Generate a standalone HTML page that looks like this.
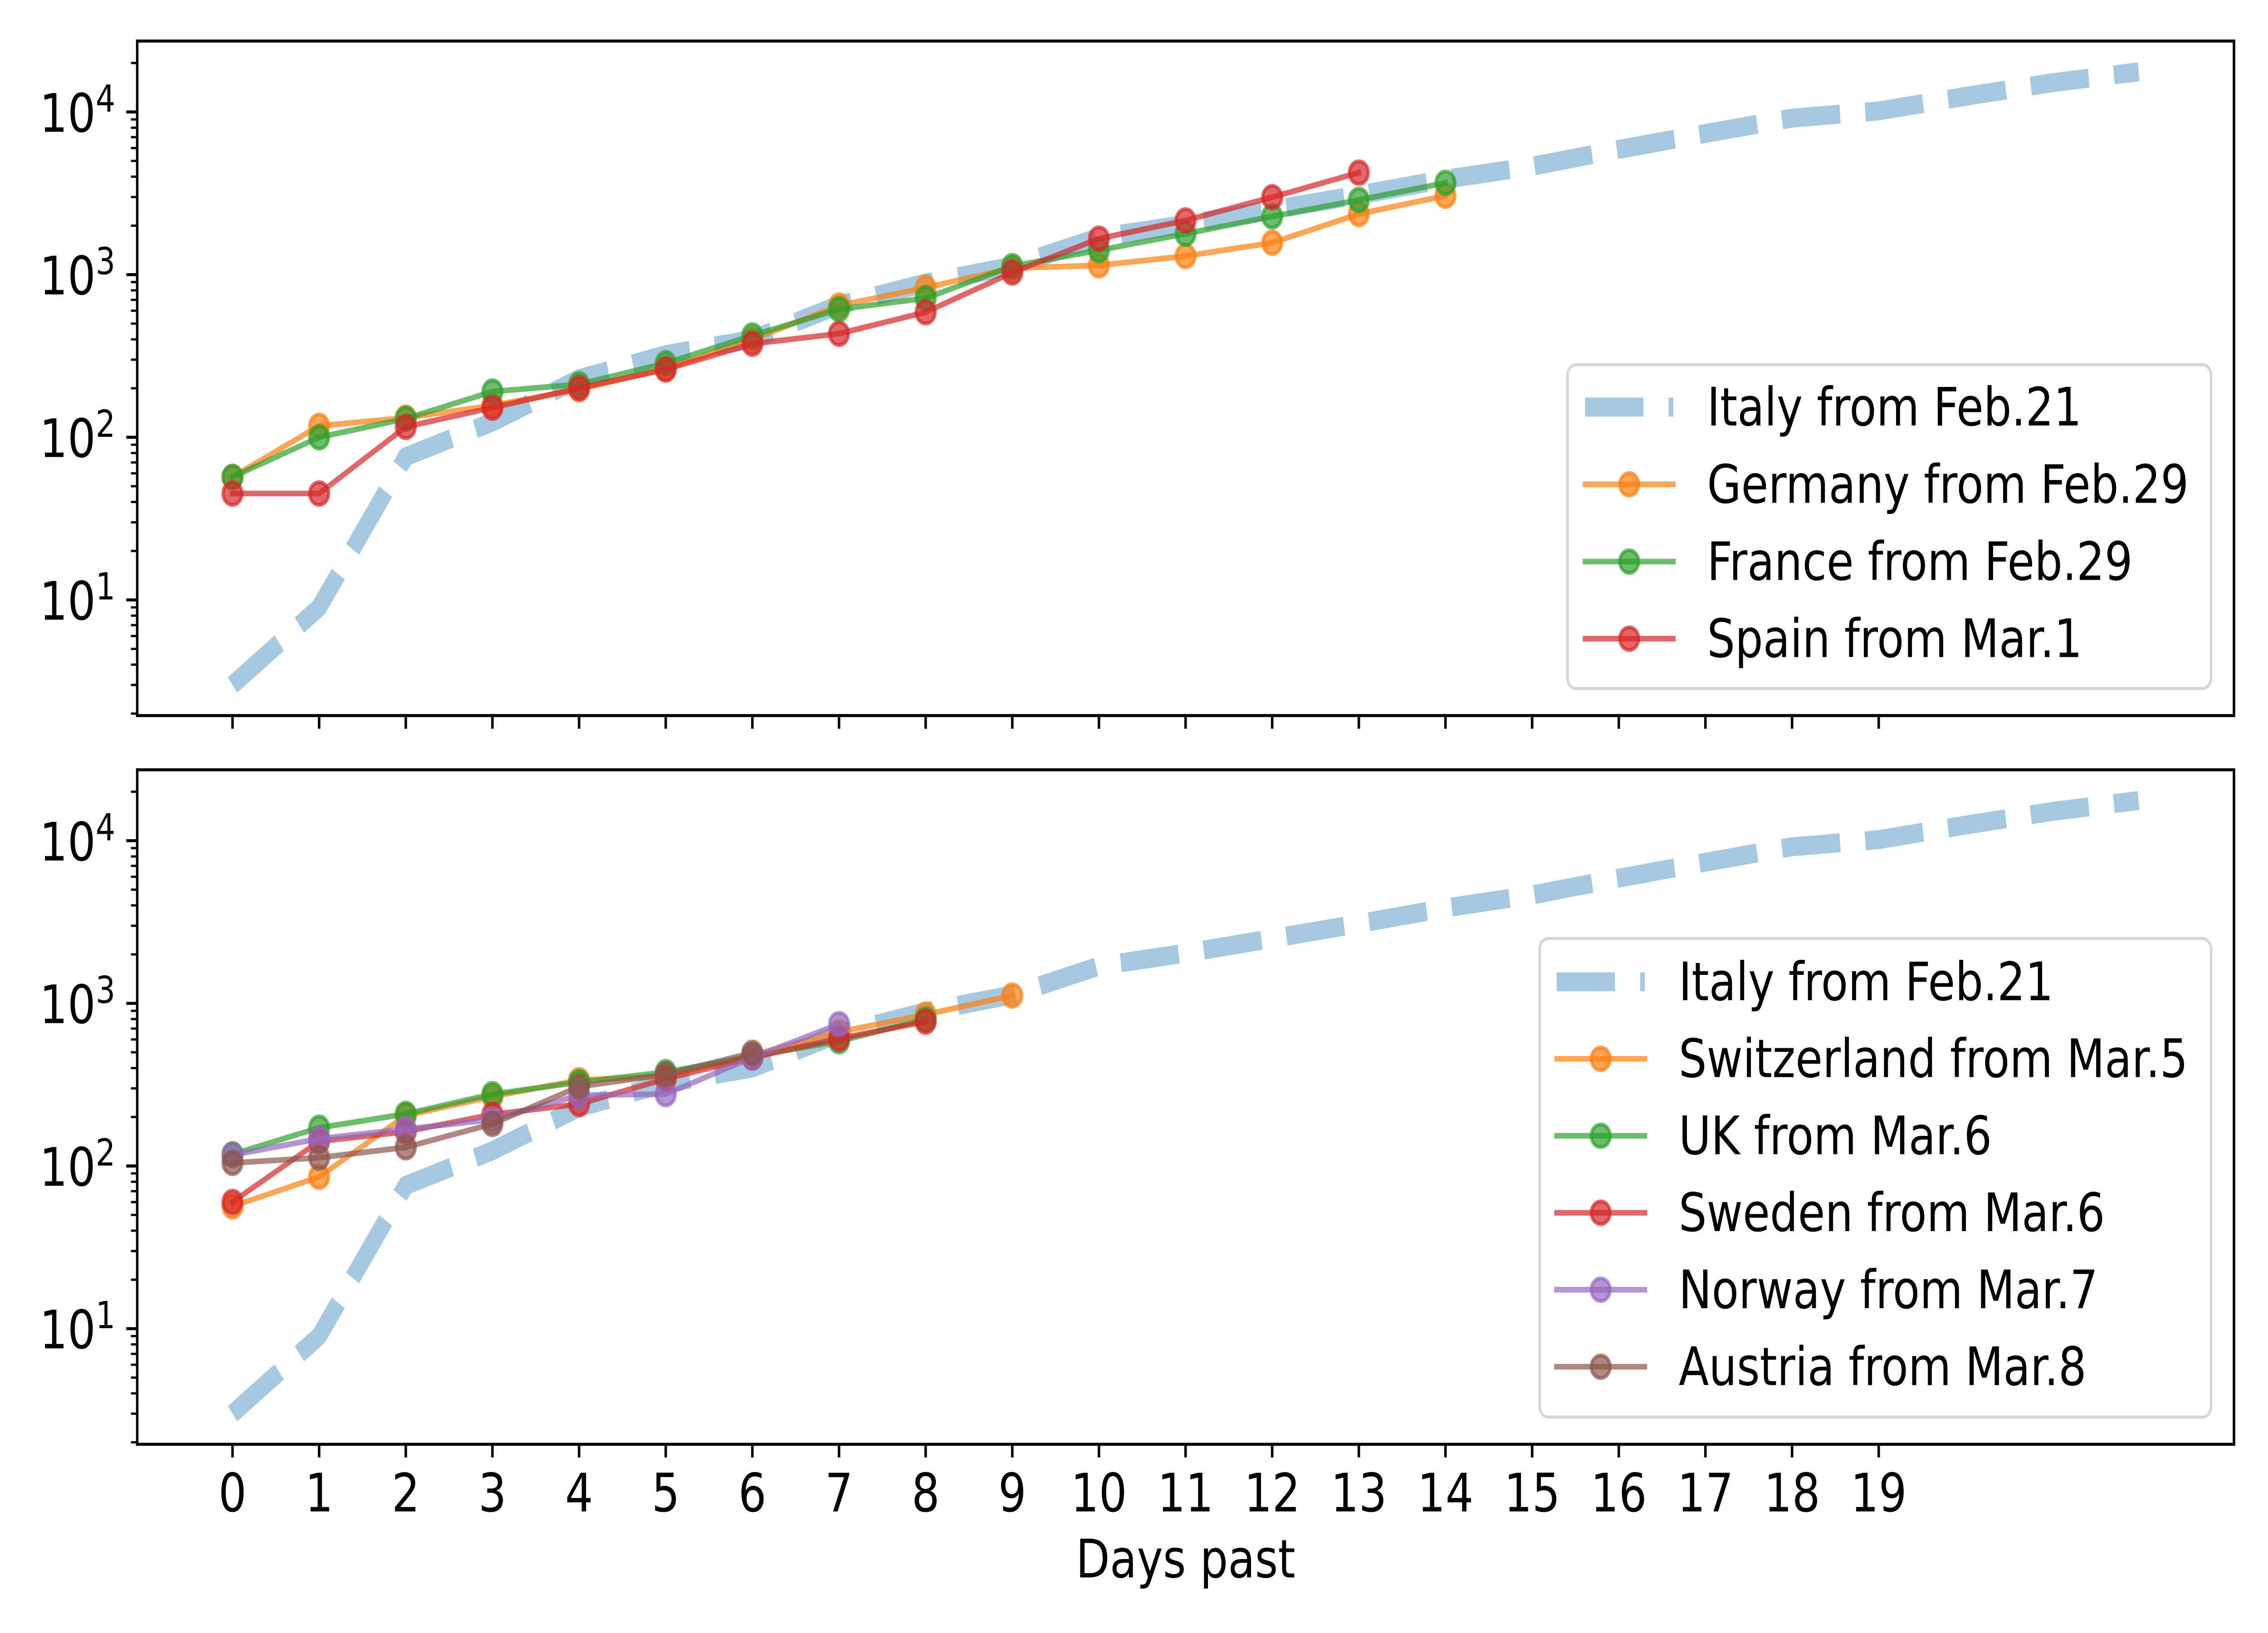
<!DOCTYPE html>
<html>
<head>
<meta charset="utf-8">
<style>
html,body{margin:0;padding:0;background:#fff;width:100%;height:100%;overflow:hidden;}
svg{display:block;width:100vw;height:100vh;}
text{font-family:"DejaVu Sans","Liberation Sans",sans-serif;fill:#000;}
</style>
</head>
<body>
<svg xmlns="http://www.w3.org/2000/svg" viewBox="0 0 6000 3600" preserveAspectRatio="none">
<rect x="0" y="0" width="6000" height="3600" fill="#fff"/>

<!-- ================= TOP AXES ================= -->
<polyline fill="none" stroke="#1f77b4" stroke-opacity="0.4" stroke-width="41.67" stroke-dasharray="154.2 66.7" stroke-linecap="butt" stroke-linejoin="round"
points="615.1,1510.05 844.3,1338.97 1073.5,1006.72 1302.7,930.49 1532.0,834.96 1761.2,781.86 1990.4,748.08 2219.6,672.50 2448.8,623.91 2678.0,586.65 2907.2,523.33 3136.4,494.68 3365.6,462.59 3594.8,429.78 3824.0,395.14 4053.3,366.52 4282.5,329.45 4511.7,294.24 4740.9,260.28 4970.1,244.54 5199.3,212.55 5428.5,182.50 5657.7,158.27"/>
<!-- Germany -->
<polyline fill="none" stroke="#ff7f0e" stroke-opacity="0.7" stroke-width="12.5" stroke-linecap="square" stroke-linejoin="round"
points="615.1,1051.47 844.3,938.88 1073.5,920.95 1302.7,894.06 1532.0,858.20 1761.2,812.66 1990.4,748.84 2219.6,673.54 2448.8,634.10 2678.0,591.07 2907.2,584.97 3136.4,564.53 3365.6,535.13 3594.8,471.66 3824.0,431.50"/>
<g fill="#ff7f0e" fill-opacity="0.7" stroke="#ff7f0e" stroke-opacity="0.7" stroke-width="8.33">
<circle cx="615.1" cy="1051.47" r="25"/><circle cx="844.3" cy="938.88" r="25"/><circle cx="1073.5" cy="920.95" r="25"/><circle cx="1302.7" cy="894.06" r="25"/><circle cx="1532.0" cy="858.20" r="25"/><circle cx="1761.2" cy="812.66" r="25"/><circle cx="1990.4" cy="748.84" r="25"/><circle cx="2219.6" cy="673.54" r="25"/><circle cx="2448.8" cy="634.10" r="25"/><circle cx="2678.0" cy="591.07" r="25"/><circle cx="2907.2" cy="584.97" r="25"/><circle cx="3136.4" cy="564.53" r="25"/><circle cx="3365.6" cy="535.13" r="25"/><circle cx="3594.8" cy="471.66" r="25"/><circle cx="3824.0" cy="431.50" r="25"/>
</g>
<!-- France -->
<polyline fill="none" stroke="#2ca02c" stroke-opacity="0.7" stroke-width="12.5" stroke-linecap="square" stroke-linejoin="round"
points="615.1,1051.47 844.3,963.98 1073.5,923.10 1302.7,863.22 1532.0,847.09 1761.2,800.83 1990.4,739.52 2219.6,681.79 2448.8,657.40 2678.0,586.71 2907.2,551.62 3136.4,515.41 3365.6,477.04 3594.8,440.83 3824.0,403.18"/>
<g fill="#2ca02c" fill-opacity="0.7" stroke="#2ca02c" stroke-opacity="0.7" stroke-width="8.33">
<circle cx="615.1" cy="1051.47" r="25"/><circle cx="844.3" cy="963.98" r="25"/><circle cx="1073.5" cy="923.10" r="25"/><circle cx="1302.7" cy="863.22" r="25"/><circle cx="1532.0" cy="847.09" r="25"/><circle cx="1761.2" cy="800.83" r="25"/><circle cx="1990.4" cy="739.52" r="25"/><circle cx="2219.6" cy="681.79" r="25"/><circle cx="2448.8" cy="657.40" r="25"/><circle cx="2678.0" cy="586.71" r="25"/><circle cx="2907.2" cy="551.62" r="25"/><circle cx="3136.4" cy="515.41" r="25"/><circle cx="3365.6" cy="477.04" r="25"/><circle cx="3594.8" cy="440.83" r="25"/><circle cx="3824.0" cy="403.18" r="25"/>
</g>
<!-- Spain -->
<polyline fill="none" stroke="#d62728" stroke-opacity="0.7" stroke-width="12.5" stroke-linecap="square" stroke-linejoin="round"
points="615.1,1088.05 844.3,1088.05 1073.5,941.03 1302.7,898.72 1532.0,855.69 1761.2,814.46 1990.4,757.80 2219.6,735.57 2448.8,688.24 2678.0,600.75 2907.2,526.17 3136.4,486.01 3365.6,434.73 3594.8,380.59"/>
<g fill="#d62728" fill-opacity="0.7" stroke="#d62728" stroke-opacity="0.7" stroke-width="8.33">
<circle cx="615.1" cy="1088.05" r="25"/><circle cx="844.3" cy="1088.05" r="25"/><circle cx="1073.5" cy="941.03" r="25"/><circle cx="1302.7" cy="898.72" r="25"/><circle cx="1532.0" cy="855.69" r="25"/><circle cx="1761.2" cy="814.46" r="25"/><circle cx="1990.4" cy="757.80" r="25"/><circle cx="2219.6" cy="735.57" r="25"/><circle cx="2448.8" cy="688.24" r="25"/><circle cx="2678.0" cy="600.75" r="25"/><circle cx="2907.2" cy="526.17" r="25"/><circle cx="3136.4" cy="486.01" r="25"/><circle cx="3365.6" cy="434.73" r="25"/><circle cx="3594.8" cy="380.59" r="25"/>
</g>

<!-- top frame & ticks -->
<g>
<rect x="363" y="90.5" width="5547" height="1487" fill="none" stroke="#000" stroke-width="6.67"/>
<path fill="none" stroke="#000" stroke-width="6.67" d="M363,1322.55H334M363,963.98H334M363,605.41H334M363,246.84H334"/>
<path fill="none" stroke="#000" stroke-width="5" d="M363,1573.18H346.3M363,1510.04H346.3M363,1465.24H346.3M363,1430.49H346.3M363,1402.10H346.3M363,1378.09H346.3M363,1357.30H346.3M363,1338.96H346.3M363,1214.61H346.3M363,1151.47H346.3M363,1106.67H346.3M363,1071.92H346.3M363,1043.53H346.3M363,1019.52H346.3M363,998.73H346.3M363,980.39H346.3M363,856.04H346.3M363,792.90H346.3M363,748.10H346.3M363,713.35H346.3M363,684.96H346.3M363,660.95H346.3M363,640.16H346.3M363,621.82H346.3M363,497.47H346.3M363,434.33H346.3M363,389.53H346.3M363,354.78H346.3M363,326.39H346.3M363,302.38H346.3M363,281.59H346.3M363,263.25H346.3M363,138.90H346.3"/>
<path fill="none" stroke="#000" stroke-width="6.67" d="M615.1,1577.5V1606.5M844.3,1577.5V1606.5M1073.5,1577.5V1606.5M1302.7,1577.5V1606.5M1532.0,1577.5V1606.5M1761.2,1577.5V1606.5M1990.4,1577.5V1606.5M2219.6,1577.5V1606.5M2448.8,1577.5V1606.5M2678.0,1577.5V1606.5M2907.2,1577.5V1606.5M3136.4,1577.5V1606.5M3365.6,1577.5V1606.5M3594.8,1577.5V1606.5M3824.0,1577.5V1606.5M4053.3,1577.5V1606.5M4282.5,1577.5V1606.5M4511.7,1577.5V1606.5M4740.9,1577.5V1606.5M4970.1,1577.5V1606.5"/>
</g>
<g font-size="116.7" text-anchor="end">
<text x="305" y="1366.05">10<tspan dy="-44.5" font-size="81.7">1</tspan></text>
<text x="305" y="1007.48">10<tspan dy="-44.5" font-size="81.7">2</tspan></text>
<text x="305" y="648.91">10<tspan dy="-44.5" font-size="81.7">3</tspan></text>
<text x="305" y="290.34">10<tspan dy="-44.5" font-size="81.7">4</tspan></text>
</g>

<!-- top legend -->
<rect x="4147" y="804" width="1702.5" height="714" rx="23.3" ry="23.3" fill="#fff" fill-opacity="0.8" stroke="#d6d6d6" stroke-width="6.67"/>
<line x1="4193.5" y1="897.5" x2="4426.8" y2="897.5" stroke="#1f77b4" stroke-opacity="0.4" stroke-width="41.67" stroke-dasharray="154.2 66.7" stroke-linecap="butt"/>
<line x1="4193.5" y1="1067.8" x2="4426.8" y2="1067.8" stroke="#ff7f0e" stroke-opacity="0.7" stroke-width="12.5" stroke-linecap="square"/>
<circle cx="4310.1" cy="1067.8" r="25" fill="#ff7f0e" fill-opacity="0.7" stroke="#ff7f0e" stroke-opacity="0.7" stroke-width="8.33"/>
<line x1="4193.5" y1="1238" x2="4426.8" y2="1238" stroke="#2ca02c" stroke-opacity="0.7" stroke-width="12.5" stroke-linecap="square"/>
<circle cx="4310.1" cy="1238" r="25" fill="#2ca02c" fill-opacity="0.7" stroke="#2ca02c" stroke-opacity="0.7" stroke-width="8.33"/>
<line x1="4193.5" y1="1408" x2="4426.8" y2="1408" stroke="#d62728" stroke-opacity="0.7" stroke-width="12.5" stroke-linecap="square"/>
<circle cx="4310.1" cy="1408" r="25" fill="#d62728" fill-opacity="0.7" stroke="#d62728" stroke-opacity="0.7" stroke-width="8.33"/>
<g font-size="116.7">
<text x="4516" y="938">Italy from Feb.21</text>
<text x="4516" y="1108.3">Germany from Feb.29</text>
<text x="4516" y="1278.5">France from Feb.29</text>
<text x="4516" y="1448.5">Spain from Mar.1</text>
</g>

<!-- ================= BOTTOM AXES ================= -->
<polyline fill="none" stroke="#1f77b4" stroke-opacity="0.4" stroke-width="41.67" stroke-dasharray="154.2 66.7" stroke-linecap="butt" stroke-linejoin="round"
points="615.1,3116.55 844.3,2945.47 1073.5,2613.22 1302.7,2536.99 1532.0,2441.46 1761.2,2388.36 1990.4,2354.58 2219.6,2279.00 2448.8,2230.41 2678.0,2193.15 2907.2,2129.83 3136.4,2101.18 3365.6,2069.09 3594.8,2036.28 3824.0,2001.64 4053.3,1973.02 4282.5,1935.95 4511.7,1900.74 4740.9,1866.78 4970.1,1851.04 5199.3,1819.05 5428.5,1789.00 5657.7,1764.77"/>
<!-- Switzerland -->
<polyline fill="none" stroke="#ff7f0e" stroke-opacity="0.7" stroke-width="12.5" stroke-linecap="square" stroke-linejoin="round"
points="615.1,2659.41 844.3,2594.50 1073.5,2459.32 1302.7,2417.37 1532.0,2381.16 1761.2,2372.55 1990.4,2325.94 2219.6,2275.02 2448.8,2236.65 2678.0,2194.70"/>
<g fill="#ff7f0e" fill-opacity="0.7" stroke="#ff7f0e" stroke-opacity="0.7" stroke-width="8.33">
<circle cx="615.1" cy="2659.41" r="25"/><circle cx="844.3" cy="2594.50" r="25"/><circle cx="1073.5" cy="2459.32" r="25"/><circle cx="1302.7" cy="2417.37" r="25"/><circle cx="1532.0" cy="2381.16" r="25"/><circle cx="1761.2" cy="2372.55" r="25"/><circle cx="1990.4" cy="2325.94" r="25"/><circle cx="2219.6" cy="2275.02" r="25"/><circle cx="2448.8" cy="2236.65" r="25"/><circle cx="2678.0" cy="2194.70" r="25"/>
</g>
<!-- UK -->
<polyline fill="none" stroke="#2ca02c" stroke-opacity="0.7" stroke-width="12.5" stroke-linecap="square" stroke-linejoin="round"
points="615.1,2544.66 844.3,2486.22 1073.5,2455.74 1302.7,2411.99 1532.0,2385.82 1761.2,2363.58 1990.4,2328.45 2219.6,2295.46 2448.8,2247.05"/>
<g fill="#2ca02c" fill-opacity="0.7" stroke="#2ca02c" stroke-opacity="0.7" stroke-width="8.33">
<circle cx="615.1" cy="2544.66" r="25"/><circle cx="844.3" cy="2486.22" r="25"/><circle cx="1073.5" cy="2455.74" r="25"/><circle cx="1302.7" cy="2411.99" r="25"/><circle cx="1532.0" cy="2385.82" r="25"/><circle cx="1761.2" cy="2363.58" r="25"/><circle cx="1990.4" cy="2328.45" r="25"/><circle cx="2219.6" cy="2295.46" r="25"/><circle cx="2448.8" cy="2247.05" r="25"/>
</g>
<!-- Sweden -->
<polyline fill="none" stroke="#d62728" stroke-opacity="0.7" stroke-width="12.5" stroke-linecap="square" stroke-linejoin="round"
points="615.1,2649.72 844.3,2515.98 1073.5,2494.82 1302.7,2456.81 1532.0,2433.87 1761.2,2378.29 1990.4,2331.31 2219.6,2289.36 2448.8,2252.43"/>
<g fill="#d62728" fill-opacity="0.7" stroke="#d62728" stroke-opacity="0.7" stroke-width="8.33">
<circle cx="615.1" cy="2649.72" r="25"/><circle cx="844.3" cy="2515.98" r="25"/><circle cx="1073.5" cy="2494.82" r="25"/><circle cx="1302.7" cy="2456.81" r="25"/><circle cx="1532.0" cy="2433.87" r="25"/><circle cx="1761.2" cy="2378.29" r="25"/><circle cx="1990.4" cy="2331.31" r="25"/><circle cx="2219.6" cy="2289.36" r="25"/><circle cx="2448.8" cy="2252.43" r="25"/>
</g>
<!-- Norway -->
<polyline fill="none" stroke="#9467bd" stroke-opacity="0.7" stroke-width="12.5" stroke-linecap="square" stroke-linejoin="round"
points="615.1,2546.46 844.3,2510.24 1073.5,2489.08 1302.7,2468.29 1532.0,2414.50 1761.2,2411.99 1990.4,2331.31 2219.6,2257.81"/>
<g fill="#9467bd" fill-opacity="0.7" stroke="#9467bd" stroke-opacity="0.7" stroke-width="8.33">
<circle cx="615.1" cy="2546.46" r="25"/><circle cx="844.3" cy="2510.24" r="25"/><circle cx="1073.5" cy="2489.08" r="25"/><circle cx="1302.7" cy="2468.29" r="25"/><circle cx="1532.0" cy="2414.50" r="25"/><circle cx="1761.2" cy="2411.99" r="25"/><circle cx="1990.4" cy="2331.31" r="25"/><circle cx="2219.6" cy="2257.81" r="25"/>
</g>
<!-- Austria -->
<polyline fill="none" stroke="#8c564b" stroke-opacity="0.7" stroke-width="12.5" stroke-linecap="square" stroke-linejoin="round"
points="615.1,2563.67 844.3,2552.19 1073.5,2529.24 1302.7,2477.61 1532.0,2395.50 1761.2,2368.60 1990.4,2320.91"/>
<g fill="#8c564b" fill-opacity="0.7" stroke="#8c564b" stroke-opacity="0.7" stroke-width="8.33">
<circle cx="615.1" cy="2563.67" r="25"/><circle cx="844.3" cy="2552.19" r="25"/><circle cx="1073.5" cy="2529.24" r="25"/><circle cx="1302.7" cy="2477.61" r="25"/><circle cx="1532.0" cy="2395.50" r="25"/><circle cx="1761.2" cy="2368.60" r="25"/><circle cx="1990.4" cy="2320.91" r="25"/>
</g>

<!-- bottom frame & ticks -->
<g transform="translate(0,1606.5)">
<rect x="363" y="90.5" width="5547" height="1487" fill="none" stroke="#000" stroke-width="6.67"/>
<path fill="none" stroke="#000" stroke-width="6.67" d="M363,1322.55H334M363,963.98H334M363,605.41H334M363,246.84H334"/>
<path fill="none" stroke="#000" stroke-width="5" d="M363,1573.18H346.3M363,1510.04H346.3M363,1465.24H346.3M363,1430.49H346.3M363,1402.10H346.3M363,1378.09H346.3M363,1357.30H346.3M363,1338.96H346.3M363,1214.61H346.3M363,1151.47H346.3M363,1106.67H346.3M363,1071.92H346.3M363,1043.53H346.3M363,1019.52H346.3M363,998.73H346.3M363,980.39H346.3M363,856.04H346.3M363,792.90H346.3M363,748.10H346.3M363,713.35H346.3M363,684.96H346.3M363,660.95H346.3M363,640.16H346.3M363,621.82H346.3M363,497.47H346.3M363,434.33H346.3M363,389.53H346.3M363,354.78H346.3M363,326.39H346.3M363,302.38H346.3M363,281.59H346.3M363,263.25H346.3M363,138.90H346.3"/>
<path fill="none" stroke="#000" stroke-width="6.67" d="M615.1,1577.5V1606.5M844.3,1577.5V1606.5M1073.5,1577.5V1606.5M1302.7,1577.5V1606.5M1532.0,1577.5V1606.5M1761.2,1577.5V1606.5M1990.4,1577.5V1606.5M2219.6,1577.5V1606.5M2448.8,1577.5V1606.5M2678.0,1577.5V1606.5M2907.2,1577.5V1606.5M3136.4,1577.5V1606.5M3365.6,1577.5V1606.5M3594.8,1577.5V1606.5M3824.0,1577.5V1606.5M4053.3,1577.5V1606.5M4282.5,1577.5V1606.5M4511.7,1577.5V1606.5M4740.9,1577.5V1606.5M4970.1,1577.5V1606.5"/>
</g>
<g font-size="116.7" text-anchor="end">
<text x="305" y="2972.55">10<tspan dy="-44.5" font-size="81.7">1</tspan></text>
<text x="305" y="2613.98">10<tspan dy="-44.5" font-size="81.7">2</tspan></text>
<text x="305" y="2255.41">10<tspan dy="-44.5" font-size="81.7">3</tspan></text>
<text x="305" y="1896.84">10<tspan dy="-44.5" font-size="81.7">4</tspan></text>
</g>

<!-- x tick labels -->
<g font-size="116.7" text-anchor="middle">
<text x="615.1" y="3332">0</text>
<text x="844.3" y="3332">1</text>
<text x="1073.5" y="3332">2</text>
<text x="1302.7" y="3332">3</text>
<text x="1532.0" y="3332">4</text>
<text x="1761.2" y="3332">5</text>
<text x="1990.4" y="3332">6</text>
<text x="2219.6" y="3332">7</text>
<text x="2448.8" y="3332">8</text>
<text x="2678.0" y="3332">9</text>
<text x="2907.2" y="3332">10</text>
<text x="3136.4" y="3332">11</text>
<text x="3365.6" y="3332">12</text>
<text x="3594.8" y="3332">13</text>
<text x="3824.0" y="3332">14</text>
<text x="4053.3" y="3332">15</text>
<text x="4282.5" y="3332">16</text>
<text x="4511.7" y="3332">17</text>
<text x="4740.9" y="3332">18</text>
<text x="4970.1" y="3332">19</text>
<text x="3136.5" y="3477.7">Days past</text>
</g>

<!-- bottom legend -->
<rect x="4073" y="2069" width="1776.5" height="1055" rx="23.3" ry="23.3" fill="#fff" fill-opacity="0.8" stroke="#d6d6d6" stroke-width="6.67"/>
<line x1="4118" y1="2164.5" x2="4351.4" y2="2164.5" stroke="#1f77b4" stroke-opacity="0.4" stroke-width="41.67" stroke-dasharray="154.2 66.7" stroke-linecap="butt"/>
<line x1="4118" y1="2334.2" x2="4351.4" y2="2334.2" stroke="#ff7f0e" stroke-opacity="0.7" stroke-width="12.5" stroke-linecap="square"/>
<circle cx="4234.7" cy="2334.2" r="25" fill="#ff7f0e" fill-opacity="0.7" stroke="#ff7f0e" stroke-opacity="0.7" stroke-width="8.33"/>
<line x1="4118" y1="2503.9" x2="4351.4" y2="2503.9" stroke="#2ca02c" stroke-opacity="0.7" stroke-width="12.5" stroke-linecap="square"/>
<circle cx="4234.7" cy="2503.9" r="25" fill="#2ca02c" fill-opacity="0.7" stroke="#2ca02c" stroke-opacity="0.7" stroke-width="8.33"/>
<line x1="4118" y1="2673.6" x2="4351.4" y2="2673.6" stroke="#d62728" stroke-opacity="0.7" stroke-width="12.5" stroke-linecap="square"/>
<circle cx="4234.7" cy="2673.6" r="25" fill="#d62728" fill-opacity="0.7" stroke="#d62728" stroke-opacity="0.7" stroke-width="8.33"/>
<line x1="4118" y1="2843.3" x2="4351.4" y2="2843.3" stroke="#9467bd" stroke-opacity="0.7" stroke-width="12.5" stroke-linecap="square"/>
<circle cx="4234.7" cy="2843.3" r="25" fill="#9467bd" fill-opacity="0.7" stroke="#9467bd" stroke-opacity="0.7" stroke-width="8.33"/>
<line x1="4118" y1="3013" x2="4351.4" y2="3013" stroke="#8c564b" stroke-opacity="0.7" stroke-width="12.5" stroke-linecap="square"/>
<circle cx="4234.7" cy="3013" r="25" fill="#8c564b" fill-opacity="0.7" stroke="#8c564b" stroke-opacity="0.7" stroke-width="8.33"/>
<g font-size="116.7">
<text x="4441" y="2205">Italy from Feb.21</text>
<text x="4441" y="2374.7">Switzerland from Mar.5</text>
<text x="4441" y="2544.4">UK from Mar.6</text>
<text x="4441" y="2714.1">Sweden from Mar.6</text>
<text x="4441" y="2883.8">Norway from Mar.7</text>
<text x="4441" y="3053.5">Austria from Mar.8</text>
</g>
</svg>
</body>
</html>
